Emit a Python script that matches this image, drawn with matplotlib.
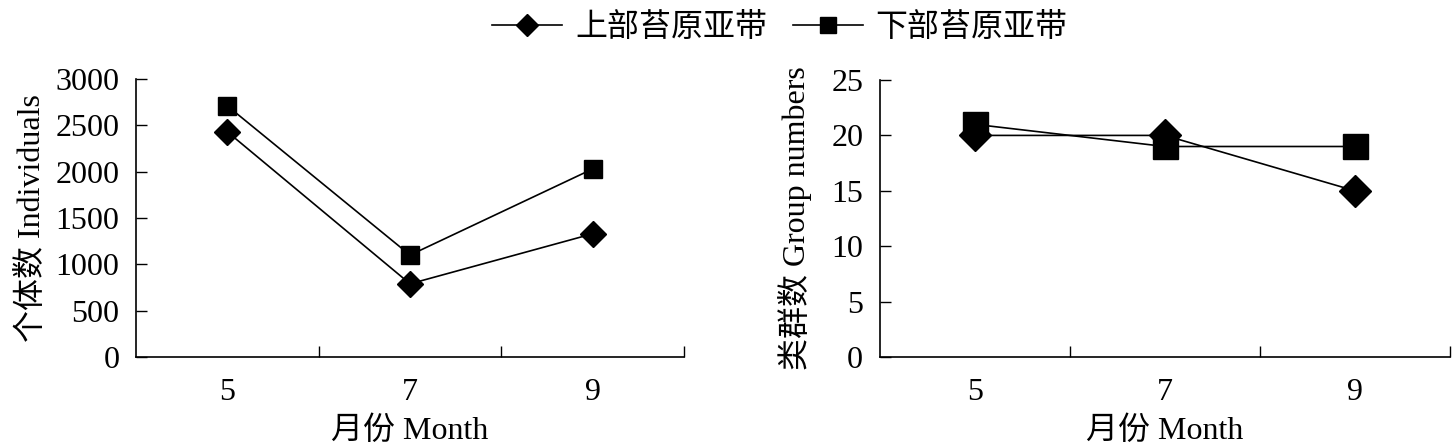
import matplotlib.pyplot as plt
import numpy as np

plt.rcParams['font.family'] = ['Liberation Serif', 'Noto Sans CJK SC']

months = ['5', '7', '9']
series_names = ['上部苔原亚带', '下部苔原亚带']

individuals_upper = [2430, 790, 1330]
individuals_lower = [2710, 1100, 2030]
groups_upper = [20, 20, 15]
groups_lower = [21, 19, 19]

fig = plt.figure(figsize=(14.52, 4.47), dpi=100)
ax1 = fig.add_axes([0.0937, 0.2013, 0.3774, 0.6219])
ax2 = fig.add_axes([0.606, 0.2013, 0.3926, 0.6197])

x = np.arange(len(months))
fs = 23


def style_axis(ax, ymax, ystep, ylabel, ylabelpad):
    ax.set_xlim(-0.5, 2.5)
    ax.set_ylim(0, ymax)
    ax.set_yticks(np.arange(0, ymax + 1, ystep))
    ax.set_xticks([0.5, 1.5, 2.5])
    ax.set_xticklabels([])
    ax.set_xticks(x, minor=True)
    ax.set_xticklabels(months, minor=True)
    ax.tick_params(axis='x', which='major', direction='in', length=8, width=1)
    ax.tick_params(axis='x', which='minor', length=0, pad=15, labelsize=fs)
    ax.tick_params(axis='y', direction='in', length=8, width=1, labelsize=fs, pad=12)
    for s in ['top', 'right']:
        ax.spines[s].set_visible(False)
    for s in ['left', 'bottom']:
        ax.spines[s].set_linewidth(1.2)
    ax.set_xlabel('月份 Month', fontsize=fs, labelpad=7)
    ax.set_ylabel(ylabel, fontsize=fs, labelpad=ylabelpad)


l1, = ax1.plot(x, individuals_upper, color='black', lw=1.2, marker='D', ms=13, label=series_names[0])
l2, = ax1.plot(x, individuals_lower, color='black', lw=1.2, marker='s', ms=13, label=series_names[1])
style_axis(ax1, 3000, 500, '个体数 Individuals', 6)

ax2.plot(x, groups_upper, color='black', lw=1.2, marker='D', ms=16)
ax2.plot(x, groups_lower, color='black', lw=1.2, marker='s', ms=18)
style_axis(ax2, 25, 5, '类群数 Group numbers', 14)

fig.legend(handles=[l1, l2], loc='upper center', bbox_to_anchor=(0.537, 1.035), ncol=2,
           frameon=False, fontsize=fs, handlelength=2.2, columnspacing=0.8,
           handletextpad=0.4, markerscale=0.85)

fig.savefig('out.png', dpi=100)
